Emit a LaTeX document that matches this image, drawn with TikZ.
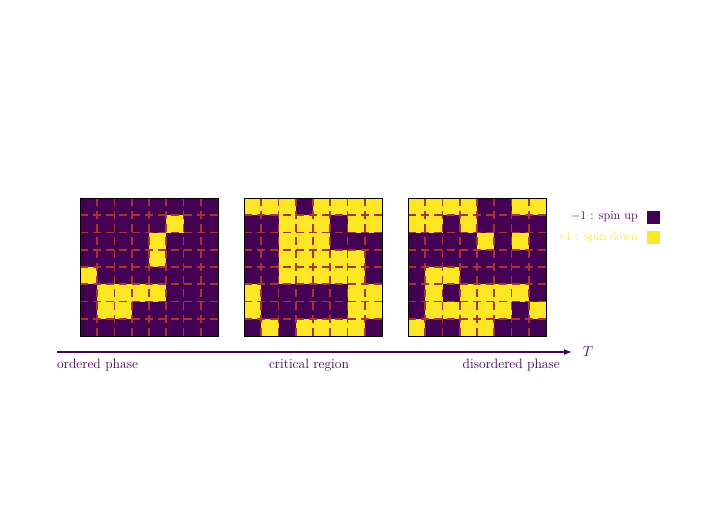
\documentclass[tikz,border=0pt]{standalone}
\usetikzlibrary{arrows.meta}
\definecolor{vpurple}{HTML}{440154}
\definecolor{vyellow}{HTML}{FDE725}
\definecolor{gridred}{HTML}{A83434}
\tikzset{
  griddash/.style={draw=gridred, line width=1.7pt, dash pattern=on 8pt off 5pt},
  frame/.style={draw=black, line width=0.8pt},
  lbl/.style={text=vpurple, font=\fontsize{12.3}{15}\selectfont, inner sep=0pt},
  axlbl/.style={text=vpurple, font=\fontsize{13.6}{16}\selectfont, inner sep=0pt},
}
\newcommand\isinggrid[3]{%
  \begin{scope}[shift={(#1,198)}]
    \fill[vpurple] (0,0) rectangle (138,138);
    \foreach \r [count=\i from 0] in {#3} {
      \foreach \c [count=\j from 0] in \r {
        \ifnum\c=1 \fill[vyellow] (\j*17.25,\i*17.25) rectangle ++(17.25,17.25);\fi
      }
    }
    \foreach \k in {1,...,7} {
      \draw[griddash] (\k*17.25,0) -- (\k*17.25,138);
      \draw[griddash] (0,\k*17.25) -- (138,\k*17.25);
    }
    \node[frame, minimum size=138pt, inner sep=0pt, anchor=north west] (#2) at (0,0) {};
  \end{scope}
}
\begin{document}
\begin{tikzpicture}[x=1pt,y=-1pt]
\useasboundingbox (0,0) rectangle (708,531);
\isinggrid{80}{g1}{{0,0,0,0,0,0,0,0},{0,0,0,0,0,1,0,0},{0,0,0,0,1,0,0,0},{0,0,0,0,1,0,0,0},{1,0,0,0,0,0,0,0},{0,1,1,1,1,0,0,0},{0,1,1,0,0,0,0,0},{0,0,0,0,0,0,0,0}}
\isinggrid{244}{g2}{{1,1,1,0,1,1,1,1},{0,0,1,1,1,0,1,1},{0,0,1,1,1,0,0,0},{0,0,1,1,1,1,1,0},{0,0,1,1,1,1,1,0},{1,0,0,0,0,0,1,1},{1,0,0,0,0,0,1,1},{0,1,0,1,1,1,1,0}}
\isinggrid{408}{g3}{{1,1,1,1,0,0,1,1},{1,1,0,1,0,0,0,0},{0,0,0,0,1,0,1,0},{0,0,0,0,0,0,0,0},{0,1,1,0,0,0,0,0},{0,1,0,1,1,1,1,0},{0,1,1,1,1,1,0,1},{1,0,0,1,1,0,0,0}}
% legend
\node[lbl, anchor=east] (lup) at (638,217) {$-1$ : spin up};
\node[lbl, anchor=east, text=vyellow] (ldown) at (638,237) {$+1$ : spin down};
\fill[vpurple] (647,211) rectangle (660,224);
\fill[vyellow] (647,231) rectangle (660,244);
% axis
\coordinate (a0) at (57,352);
\coordinate (a1) at (572,352);
\draw[vpurple, line width=1.2pt, -{Latex[length=8pt,width=6pt]}] (a0) -- (a1);
\node[axlbl, font=\fontsize{15}{17}\selectfont] (tT) at (588,352) {$T$};
\node[axlbl, anchor=north west] (ord) at (57,359) {ordered phase};
\node[axlbl, anchor=north] (crit) at (309,359) {critical region};
\node[axlbl, anchor=north east] (dis) at (560,359) {disordered phase};
\end{tikzpicture}
\end{document}
